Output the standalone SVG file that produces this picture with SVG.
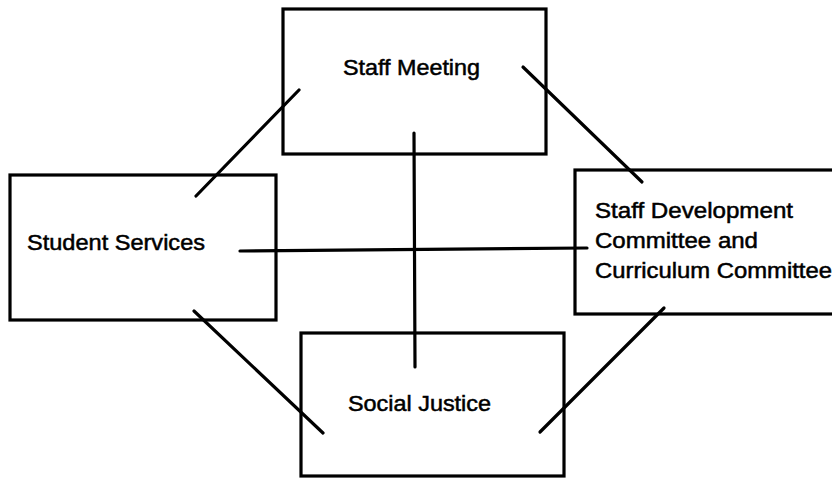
<svg xmlns="http://www.w3.org/2000/svg" width="832" height="478" viewBox="0 0 832 478">
<style>
.box{fill:none;stroke:#000;stroke-width:3.2}
.ln{stroke:#000;stroke-width:3.2;stroke-linecap:round}
text{font-family:"Liberation Sans",Arial,sans-serif;font-size:21.5px;fill:#000;stroke:#000;stroke-width:0.5}
</style>
<rect width="832" height="478" fill="#fff"/>
<g id="connectors">
<line class="ln" x1="196" y1="196" x2="299" y2="90"/>
<line class="ln" x1="523" y1="67" x2="642" y2="182"/>
<line class="ln" x1="414" y1="133" x2="415" y2="367"/>
<line class="ln" x1="240" y1="251" x2="587" y2="248"/>
<line class="ln" x1="194" y1="311" x2="323" y2="433"/>
<line class="ln" x1="664" y1="308" x2="540" y2="432"/>
</g>
<g id="staff-meeting">
<rect class="box" x="283" y="9" width="263" height="145"/>
<text x="343" y="75" textLength="137" lengthAdjust="spacingAndGlyphs">Staff Meeting</text>
</g>
<g id="student-services">
<rect class="box" x="10" y="175" width="266" height="145"/>
<text x="27" y="250" textLength="178" lengthAdjust="spacingAndGlyphs">Student Services</text>
</g>
<g id="staff-development">
<rect class="box" x="575" y="170" width="280" height="144"/>
<text x="595" y="218" textLength="198" lengthAdjust="spacingAndGlyphs">Staff Development</text>
<text x="595" y="248" textLength="163" lengthAdjust="spacingAndGlyphs">Committee and</text>
<text x="595" y="278" textLength="237" lengthAdjust="spacingAndGlyphs">Curriculum Committee</text>
</g>
<g id="social-justice">
<rect class="box" x="301" y="333" width="263" height="143"/>
<text x="348" y="411" textLength="143" lengthAdjust="spacingAndGlyphs">Social Justice</text>
</g>
</svg>
